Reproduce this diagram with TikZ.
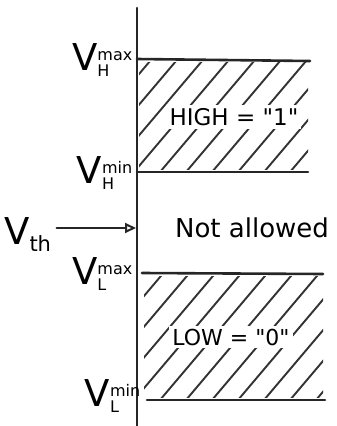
\documentclass[tikz,border=0pt]{standalone}
\usepackage{fontspec}
\setmainfont{DejaVu Sans}
\newfontfamily\rawfont{DejaVu Sans}
\usetikzlibrary{arrows.meta}
\newcommand{\lvl}[2]{V$^{\hbox{\fontsize{16}{16}\selectfont #1}}_{\hbox{\fontsize{16}{16}\selectfont #2}}$}
\newcommand{\qq}{{\rawfont"}}
\begin{document}
\begin{tikzpicture}[x=1pt,y=-1pt,
  ink/.style={line width=2.6pt,color=black!85,line cap=round},
  hatch/.style={line width=1.9pt,color=black!80,line cap=round},
  lbl/.style={font=\fontsize{37}{38}\selectfont,inner sep=0pt},
  region/.style={fill=white,inner sep=3pt},
  tip/.style={-{Triangle[open,length=11pt,width=10pt,line width=2pt]}}]
\useasboundingbox (0,0) rectangle (337,426);
% axis
\coordinate (axtop) at (137,8);
\coordinate (axbot) at (137,426);
\draw[ink] (axtop) -- (axbot);
% level lines
\coordinate (hmaxA) at (137,59);  \coordinate (hmaxB) at (310,61);
\coordinate (hminA) at (137,172); \coordinate (hminB) at (308,172);
\coordinate (lmaxA) at (142,273); \coordinate (lmaxB) at (323,274);
\coordinate (lminA) at (147,400); \coordinate (lminB) at (325,400);
% hatching HIGH
\begin{scope}
\clip (139,62) rectangle (308,169);
\foreach \k in {0,...,12} \draw[hatch] (30+\k*26,172) -- ++(100,-118);
\end{scope}
% hatching LOW
\begin{scope}
\clip (144,276) rectangle (323,397);
\foreach \k in {0,...,13} \draw[hatch] (30+\k*26,400) -- ++(110,-130);
\end{scope}
\draw[ink] (hmaxA) -- (hmaxB);
\draw[ink] (hminA) -- (hminB);
\draw[ink] (lmaxA) -- (lmaxB);
\draw[ink] (lminA) -- (lminB);
% region texts
\node[region,font=\fontsize{23}{25}\selectfont] (high) at (234,117) {HIGH = \qq1\qq};
\node[region,font=\fontsize{22}{24}\selectfont] (low) at (231,337) {LOW = \qq0\qq};
\node[region,font=\fontsize{26}{28}\selectfont] (na) at (252,228) {Not allowed};
% labels
\node[lbl,anchor=base east] (vhmax) at (133,70) {\lvl{max}{H}};
\node[lbl,anchor=base east] (vhmin) at (133,183) {\lvl{min}{H}};
\node[lbl,anchor=base east] (vlmax) at (133,284) {\lvl{max}{L}};
\node[lbl,anchor=base east] (vlmin) at (141,406) {\lvl{min}{L}};
\node[lbl,anchor=base west] (vth) at (4,244) {V$_{\hbox{\fontsize{21}{21}\selectfont th}}$};
\coordinate (axth) at (136,228);
\draw[ink,tip] (vth.east |- axth) ++(5,0) -- (axth);
\end{tikzpicture}
\end{document}
